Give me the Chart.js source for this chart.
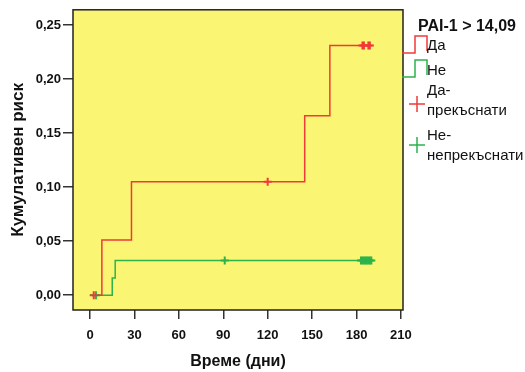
<!DOCTYPE html>
<html>
<head>
<meta charset="utf-8">
<script src="https://cdn.jsdelivr.net/npm/chart.js@4.4.1/dist/chart.umd.min.js"></script>
<style>
  html, body { margin: 0; padding: 0; background: #fff; }
  #wrap { position: relative; width: 525px; height: 372px; font-family: Arial, "Liberation Sans", sans-serif; color: #111; }
  #km { position: absolute; left: 0; top: 0; }
  .lg { position: absolute; font-size: 15px; line-height: 20px; white-space: nowrap; }
  .lg-title { position: absolute; left: 418px; top: 16px; font-weight: bold; font-size: 16px; line-height: 20px; white-space: nowrap; }
  .ico { position: absolute; }
</style>
</head>
<body>
<div id="wrap">
  <canvas id="km" width="525" height="372"></canvas>
  <div class="lg-title">PAI-1 &gt; 14,09</div>
  <svg class="ico" style="left:402px;top:34px" width="28" height="22"><polyline points="0,19 13,19 13,2 25,2 25,17" fill="none" stroke="#ef3a3a" stroke-width="1.5"/></svg>
  <div class="lg" style="left:427px;top:35px">Да</div>
  <svg class="ico" style="left:402px;top:57px" width="28" height="22"><polyline points="0,20 13,20 13,3 25,3 25,18" fill="none" stroke="#2cb34a" stroke-width="1.5"/></svg>
  <div class="lg" style="left:427px;top:60px">Не</div>
  <svg class="ico" style="left:408px;top:95px" width="18" height="18"><path d="M1,9 H17 M9,1 V17" stroke="#ef3a3a" stroke-width="1.5"/></svg>
  <div class="lg" style="left:427px;top:80px">Да-<br>прекъснати</div>
  <svg class="ico" style="left:408px;top:136px" width="18" height="18"><path d="M1,9 H17 M9,1 V17" stroke="#2cb34a" stroke-width="1.5"/></svg>
  <div class="lg" style="left:427px;top:125px">Не-<br>непрекъснати</div>
</div>
<script>
// Kaplan-Meier cumulative risk, PAI-1 > 14,09
const yesTimes = [0, 8, 28, 145, 162, 189];
const yesRisk = [0, 0.051, 0.105, 0.166, 0.231, 0.231];
const yesCensored = [2.5, 120, 184, 185, 188, 189];

const noTimes = [0, 15, 17, 190];
const noRisk = [0, 0.016, 0.032, 0.032];
const noCensored = [4, 91, 183, 184, 185, 186, 187, 188, 189, 190];

const xTicks = [0, 30, 60, 90, 120, 150, 180, 210];
const yTicks = [0, 0.05, 0.10, 0.15, 0.20, 0.25];

const RED = '#ef3a3a';
const GREEN = '#2cb34a';

// risk at time t from the step curve
function riskAt(times, risk, t) {
	let r = risk[0];
	for (let i = 0; i < times.length; i++) {
		if (times[i] <= t) r = risk[i];
	}
	return r;
}

const toPts = (xs, ys) => xs.map((x, i) => ({ x: x, y: ys[i] }));
const censorPts = (cs, times, risk) => cs.map(t => ({ x: t, y: riskAt(times, risk, t) }));

const plotBg = {
	id: 'plotBg',
	beforeDraw(chart) {
		const { ctx, chartArea: a } = chart;
		ctx.save();
		ctx.fillStyle = '#faf572';
		ctx.fillRect(a.left, a.top, a.right - a.left, a.bottom - a.top);
		ctx.restore();
	},
	beforeDatasetsDraw(chart) {
		const { ctx, chartArea: a } = chart;
		ctx.save();
		ctx.strokeStyle = '#222';
		ctx.lineWidth = 1.5;
		ctx.strokeRect(a.left, a.top, a.right - a.left, a.bottom - a.top);
		ctx.restore();
	}
};

const FONT = 'Arial, "Liberation Sans", sans-serif';
const tickFont = { family: FONT, size: 13, weight: 'bold' };

new Chart(document.getElementById('km'), {
	type: 'line',
	data: {
		datasets: [
			{
				label: 'Да',
				data: toPts(yesTimes, yesRisk),
				stepped: 'before',
				borderColor: RED,
				borderWidth: 1.5,
				pointRadius: 0,
				fill: false,
			},
			{
				label: 'Не',
				data: toPts(noTimes, noRisk),
				stepped: 'before',
				borderColor: GREEN,
				borderWidth: 1.5,
				pointRadius: 0,
				fill: false,
			},
			{
				label: 'Да-прекъснати',
				data: censorPts(yesCensored, yesTimes, yesRisk),
				showLine: false,
				pointStyle: 'cross',
				pointRadius: 4,
				pointBorderWidth: 2,
				borderColor: RED,
				backgroundColor: RED,
			},
			{
				label: 'Не-непрекъснати',
				data: censorPts(noCensored, noTimes, noRisk),
				showLine: false,
				pointStyle: 'cross',
				pointRadius: 4,
				pointBorderWidth: 2,
				borderColor: GREEN,
				backgroundColor: GREEN,
			},
		],
	},
	options: {
		responsive: false,
		animation: false,
		layout: { padding: { left: 0, right: 122, top: 7, bottom: 0 } },
		plugins: {
			legend: { display: false },
			tooltip: { enabled: false },
		},
		scales: {
			x: {
				type: 'linear',
				min: -11.5,
				max: 211.4,
				afterBuildTicks: s => { s.ticks = xTicks.map(v => ({ value: v })); },
				afterFit: s => { s.height = 62; },
				grid: { drawOnChartArea: false, drawTicks: true, tickLength: 9, color: '#333', lineWidth: 1.5 },
				border: { display: false },
				ticks: { font: tickFont, color: '#111', padding: 9, maxRotation: 0, callback: v => String(v) },
				title: { display: true, text: 'Време (дни)', font: { family: FONT, size: 16, weight: 'bold' }, color: '#111', padding: { top: 2, bottom: 1 } },
			},
			y: {
				type: 'linear',
				min: -0.0137,
				max: 0.264,
				afterBuildTicks: s => { s.ticks = yTicks.map(v => ({ value: v })); },
				afterFit: s => { s.width = 73; },
				grid: { drawOnChartArea: false, drawTicks: true, tickLength: 10, color: '#333', lineWidth: 1.5 },
				border: { display: false },
				ticks: { font: tickFont, color: '#111', padding: 2, callback: v => v.toFixed(2).replace('.', ',') },
				title: { display: true, text: 'Кумулативен риск', font: { family: FONT, size: 17, weight: 'bold' }, color: '#111', padding: { top: 8, bottom: 2 } },
			},
		},
	},
	plugins: [plotBg],
});
</script>
</body>
</html>
